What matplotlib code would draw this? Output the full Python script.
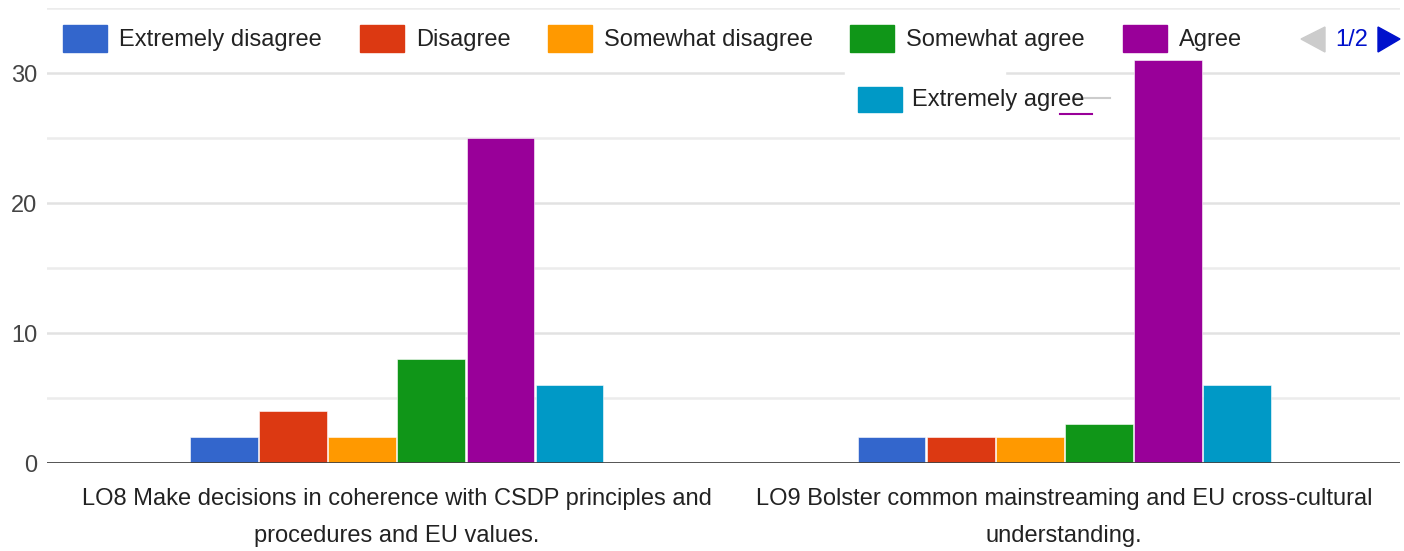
import matplotlib
matplotlib.use("Agg")
from matplotlib import pyplot as plt
from matplotlib.patches import Rectangle, Polygon

categories = [
    "LO8 Make decisions in coherence with CSDP principles and\nprocedures and EU values.",
    "LO9 Bolster common mainstreaming and EU cross-cultural\nunderstanding.",
]
series_names = ["Extremely disagree", "Disagree", "Somewhat disagree",
                "Somewhat agree", "Agree", "Extremely agree"]
counts = [
    [2, 2],   # Extremely disagree
    [4, 2],   # Disagree
    [2, 2],   # Somewhat disagree
    [8, 3],   # Somewhat agree
    [25, 31], # Agree
    [6, 6],   # Extremely agree
]
colors = ["#3366cc", "#dc3912", "#ff9900", "#109618", "#990099", "#0099c6"]
y_ticks = [0, 10, 20, 30]

FONT = ["Liberation Sans Narrow", "Liberation Sans", "DejaVu Sans"]
plt.rcParams["font.family"] = FONT

W, H = 1404, 551
fig = plt.figure(figsize=(W / 100, H / 100), dpi=100)
ax = fig.add_axes([47 / W, (H - 463) / H, (1400 - 47) / W, 455 / H])


def px(x, y):
    return fig.transFigure.inverted().transform((x, H - y))


step = 0.1035
width = 0.1015
n = len(series_names)
for i, (name, vals) in enumerate(zip(series_names, counts)):
    xs = [c + (i - (n - 1) / 2) * step for c in range(len(categories))]
    ax.bar(xs, vals, width=width, color=colors[i], zorder=3,
           edgecolor="white", linewidth=0.4)

ax.set_xlim(-0.524, 1.503)
ax.set_ylim(0, 35)
ax.set_yticks(y_ticks)
ax.set_yticklabels([str(t) for t in y_ticks], fontsize=17, color="#444444")
for v in range(5, 36, 5):
    col = "#e2e2e2" if v % 10 == 0 else "#ececec"
    ax.axhline(v, color=col, lw=1.8, zorder=1)
ax.axhline(0, color="#444444", lw=2, zorder=4)
ax.set_xticks(range(len(categories)))
ax.set_xticklabels(categories, fontsize=17, color="#222222", linespacing=1.9)
ax.tick_params(axis="both", length=0)
ax.tick_params(axis="x", pad=18)
ax.tick_params(axis="y", pad=7)
for s in ax.spines.values():
    s.set_visible(False)

# legend, row 1
row1 = [(63, 0), (360, 1), (548, 2), (850, 3), (1123, 4)]
for x0, k in row1:
    fig.patches.append(Rectangle(px(x0, 52), 44 / W, 27 / H, transform=fig.transFigure,
                                 color=colors[k], zorder=5))
    fig.text(*px(x0 + 56, 40), series_names[k], fontsize=17, color="#222222",
             va="center", ha="left")

# legend, row 2 with white backing
fig.patches.append(Rectangle(px(845, 116), 160 / W, 56 / H, transform=fig.transFigure,
                             color="white", zorder=4))
fig.patches.append(Rectangle(px(858, 112), 44 / W, 25 / H, transform=fig.transFigure,
                             color=colors[5], zorder=5))
fig.text(*px(912, 100), series_names[5], fontsize=17, color="#222222",
         va="center", ha="left", zorder=6)
fig.lines.append(plt.Line2D([px(1075, 0)[0], px(1110, 0)[0]], [px(0, 98)[1]] * 2,
                            transform=fig.transFigure, color="#cccccc", lw=1.5))
fig.lines.append(plt.Line2D([px(1060, 0)[0], px(1092, 0)[0]], [px(0, 114)[1]] * 2,
                            transform=fig.transFigure, color=colors[4], lw=1.5))

# pager
fig.patches.append(Polygon([px(1325, 27), px(1325, 52), px(1301, 39)], closed=True,
                           transform=fig.transFigure, color="#cccccc", zorder=5))
fig.text(*px(1352, 40), "1/2", fontsize=17, color="#0011cc", va="center", ha="center")
fig.patches.append(Polygon([px(1378, 27), px(1378, 52), px(1400, 39)], closed=True,
                           transform=fig.transFigure, color="#0011cc", zorder=5))

fig.savefig("out.png", dpi=100, facecolor="white")
